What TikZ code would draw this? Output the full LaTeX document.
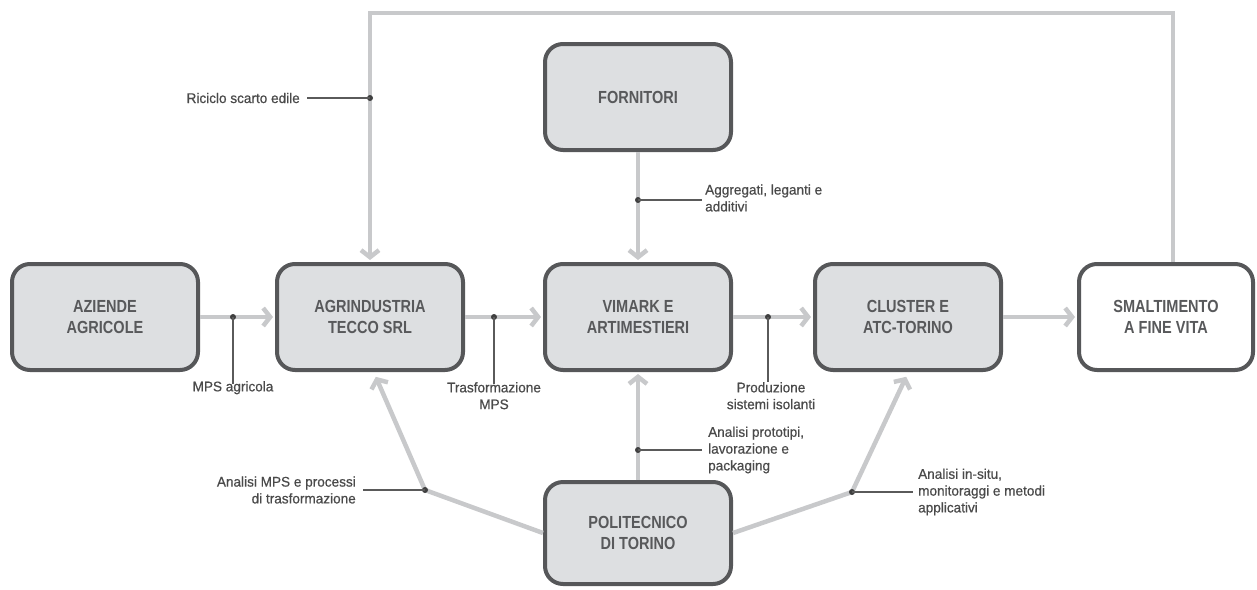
\documentclass[tikz,border=0pt]{standalone}
\usepackage{fontspec}
\setmainfont{Liberation Sans}
\newfontfamily\boxfont[FakeStretch=0.83]{Liberation Sans}
\newfontfamily\tagfont[FakeStretch=0.97,FakeBold=0.6]{Liberation Sans}
\usetikzlibrary{arrows.meta,calc}

\definecolor{boxfill}{HTML}{DDDFE1}
\definecolor{boxline}{HTML}{565759}
\definecolor{boxtext}{HTML}{58595B}
\definecolor{flowgray}{HTML}{C8C9CB}
\definecolor{leadgray}{HTML}{5A5A5A}
\definecolor{dotgray}{HTML}{3F3F3F}
\definecolor{tagtext}{HTML}{4A4A4A}

\tikzset{
  block/.style={draw=boxline, line width=4pt, rounded corners=18pt, fill=boxfill,
    minimum width=186pt, minimum height=106pt, align=center, text=boxtext,
    font=\boxfont\bfseries\fontsize{17.5}{21}\selectfont},
  flow/.style={draw=flowgray, line width=4.5pt,
    -{Straight Barb[length=7pt,width=18pt]}, shorten >=2pt},
  tag/.style={font=\tagfont\fontsize{14}{16.8}\selectfont, text=tagtext, inner sep=0pt},
  lead/.style={draw=leadgray, line width=1.1pt},
  dot/.style={circle, fill=dotgray, inner sep=0pt, minimum size=6pt}
}

\begin{document}
\begin{tikzpicture}[x=1pt, y=-1pt]
\useasboundingbox (0,0) rectangle (1257,589);

% actors
\node[block] (az) at (105,317) {AZIENDE\\AGRICOLE};
\node[block] (ag) at (370,317) {AGRINDUSTRIA\\TECCO SRL};
\node[block] (vi) at (638,317) {VIMARK E\\ARTIMESTIERI};
\node[block] (cl) at (908,317) {CLUSTER E\\ATC-TORINO};
\node[block, fill=white, minimum width=174pt] (sm) at (1166,317) {SMALTIMENTO\\A FINE VITA};
\node[block] (fo) at (638,97) {FORNITORI};
\node[block, minimum height=102pt] (po) at (638,533) {POLITECNICO\\DI TORINO};

% recycling loop back to the start of the chain
\coordinate (loopL) at (370,13);
\draw[flow] ($(sm.north)+(7,0)$) |- (loopL) -- (ag.north);

% main chain
\draw[flow] (az) -- (ag);
\draw[flow] (ag) -- (vi);
\draw[flow] (vi) -- (cl);
\draw[flow] (cl) -- (sm);

% suppliers
\draw[flow] (fo) -- (vi);

% university contributions
\coordinate (k1) at (425,490);
\coordinate (k2) at (852,492);
\draw[flow] (po.west) -- (k1) -- ($(ag.south)+(5,3)$);
\draw[flow] (po) -- (vi);
\draw[flow] (po.east) -- (k2) -- ($(cl.south)+(-1,3)$);

% labels with leader lines
\node[dot] (d1) at (370,98) {};
\node[tag, anchor=east] (t1) at (300,98) {Riciclo scarto edile};
\draw[lead] (d1.center) -- ([xshift=7pt]t1.east);

\node[dot] (d2) at (638,200) {};
\node[tag, anchor=west, align=left] (t2) at (705,198) {Aggregati, leganti e\\additivi};
\draw[lead] (d2.center) -- ([xshift=-3pt]t2.west |- d2.center);

\node[dot] (d3) at (233,317) {};
\node[tag, anchor=north] (t3) at (233,381) {MPS agricola};
\draw[lead] (d3.center) -- ([yshift=-3pt]t3.north);

\node[dot] (d4) at (494,317) {};
\node[tag, anchor=north, align=center] (t4) at (494,382) {Trasformazione\\MPS};
\draw[lead] (d4.center) -- ([yshift=-2pt]t4.north);

\node[dot] (d5) at (768,317) {};
\node[tag, anchor=north, align=center] (t5) at (771,382) {Produzione\\sistemi isolanti};
\draw[lead] (d5.center) -- (d5.center |- t5.north);

\node[dot] (d6) at (k1) {};
\node[tag, anchor=east, align=right] (t6) at (356,490) {Analisi MPS e processi\\di trasformazione};
\draw[lead] (d6.center) -- ([xshift=7pt]t6.east);

\node[dot] (d7) at (638,450) {};
\node[tag, anchor=west, align=left] (t7) at (708,450) {Analisi prototipi,\\lavorazione e\\packaging};
\draw[lead] (d7.center) -- ([xshift=-6pt]t7.west);

\node[dot] (d8) at (k2) {};
\node[tag, anchor=west, align=left] (t8) at (918,492) {Analisi in-situ,\\monitoraggi e metodi\\applicativi};
\draw[lead] (d8.center) -- ([xshift=-5pt]t8.west);

\end{tikzpicture}
\end{document}
